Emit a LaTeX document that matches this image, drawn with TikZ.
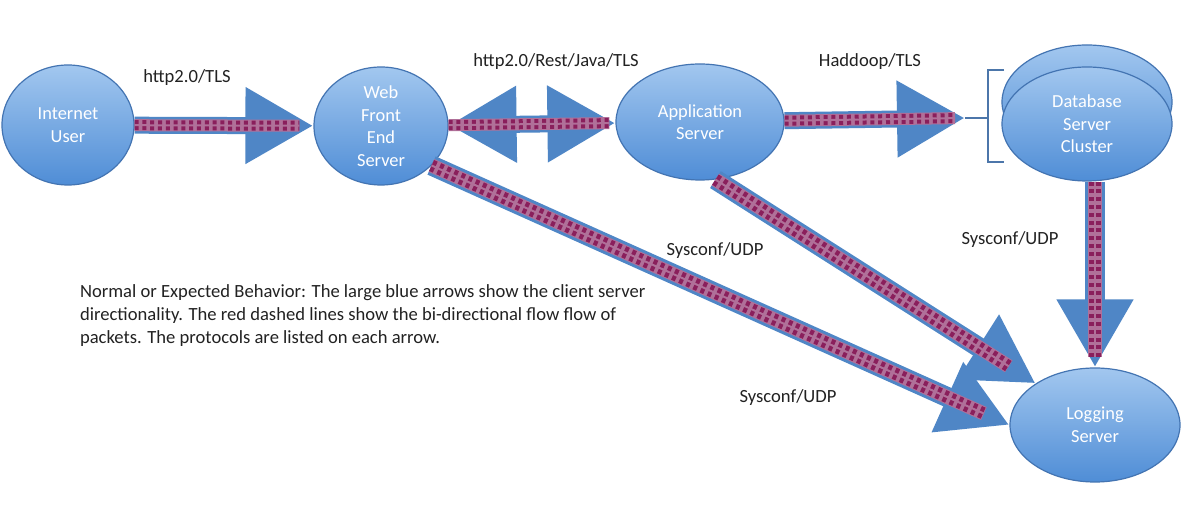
\documentclass[tikz,border=0pt]{standalone}
\usepackage{fontspec}
\setmainfont{Carlito}
\usetikzlibrary{arrows.meta,shapes.geometric,calc,positioning}
\definecolor{nodetop}{HTML}{A2C7EF}
\definecolor{nodebot}{HTML}{4F8DD6}
\definecolor{nodeedge}{HTML}{4374B2}
\definecolor{arrowblue}{HTML}{4F86C6}
\definecolor{flowbg}{HTML}{B07099}
\definecolor{flowdot}{HTML}{8A1F5C}
\definecolor{inkgray}{HTML}{222222}

\begin{document}
\begin{tikzpicture}[x=0.5pt,y=-0.5pt,
    server/.style={ellipse, draw=nodeedge, line width=0.6pt, top color=nodetop, bottom color=nodebot,
      text=white, align=center, inner sep=0pt, font=\fontsize{9.2}{11.3}\selectfont},
    proto/.style={text=inkgray, font=\fontsize{9.3}{11}\selectfont},
    bigtip/.tip={Triangle[length=34pt,width=36pt]},
    bigarrow/.style={draw=arrowblue, line width=#1, -bigtip},
    bigarrow/.default=8.5pt,
    flow/.style={draw=flowbg, line width=#1,
      postaction={draw=flowdot, line width=#1-1pt, dash pattern=on 2pt off 1.9pt},
      postaction={draw=flowbg, line width=1pt}},
    flow/.default=6pt,
    bracket/.style={draw=nodeedge!85!gray, line width=1.1pt}]
  \useasboundingbox[fill=white] (0,0) rectangle (1200,506);

  % servers
  \node[server, minimum width=66pt, minimum height=60pt] (user) at (68,125) {Internet\\User};
  \node[server, minimum width=67pt, minimum height=59pt] (web) at (381,126) {Web\\Front\\End\\Server};
  \node[server, minimum width=84pt, minimum height=58pt] (app) at (700,122) {Application\\Server};
  \node[server, minimum width=85pt, minimum height=57pt] (dbback) at (1087,102) {};
  \node[server, minimum width=85pt, minimum height=57pt] (db) at (1087,124) {Database\\Server\\Cluster};
  \node[server, minimum width=85pt, minimum height=57pt] (log) at (1095,425) {Logging\\Server};

  % cluster bracket
  \coordinate (dbtip) at (965,118);
  \draw[bracket] (1004,70) -- (988,70) -- (988,162) -- (1004,162);
  \draw[bracket] (988,118) -- (dbtip);

  % client/server arrows with packet flow
  \draw[bigarrow] (user) -- (web);
  \draw[flow, shorten >=7pt] (user) -- (web);
  \draw[bigarrow, bigtip-bigtip] (web) -- (app);
  \draw[flow, shorten >=3pt] (web) -- (app);
  \draw[bigarrow] (app) -- (dbtip);
  \draw[flow, shorten >=5pt] (app) -- (dbtip);
  \draw[bigarrow=10pt] (db.south -| log) -- (log.north);
  \draw[flow=7pt, shorten >=5pt] (db.south -| log) -- (log.north);
  \draw[bigarrow=10pt] (app.-75) -- (log.145);
  \draw[flow=7pt, shorten >=16pt] (app.-75) -- (log.145);
  \draw[bigarrow=10pt] (web.-38) -- (log.west);
  \draw[flow=7pt, shorten >=14pt] (web.-38) -- (log.west);

  % protocols
  \node[proto] (lbluser) at (187,78) {http2.0/TLS};
  \node[proto] (lblweb) at (556,62) {http2.0/Rest/Java/TLS};
  \node[proto] (lblapp) at (870,62) {Haddoop/TLS};
  \node[proto] (lblapplog) at (715,251) {Sysconf/UDP};
  \node[proto] (lblweblog) at (788,398) {Sysconf/UDP};
  \node[proto] (lbldblog) at (1010,240) {Sysconf/UDP};

  \node[proto, anchor=north west, align=left, font=\fontsize{9.3}{11.3}\selectfont] (note) at (73,278)
    {Normal or Expected Behavior: The large blue arrows show the client server\\
     directionality. The red dashed lines show the bi-directional flow flow of\\
     packets. The protocols are listed on each arrow.};
\end{tikzpicture}
\end{document}
